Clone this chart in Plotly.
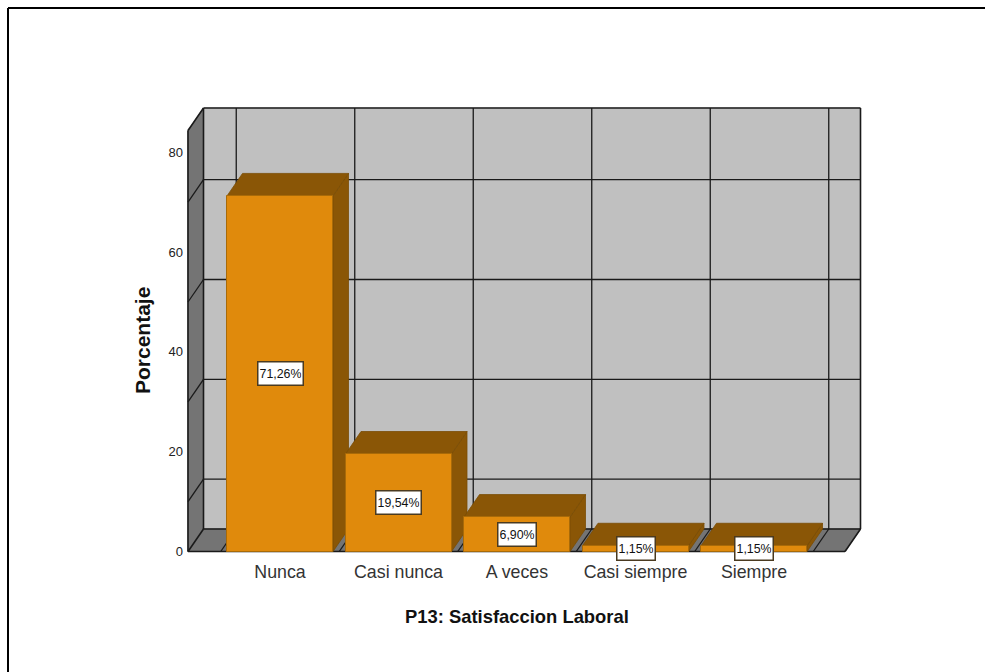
import plotly.graph_objects as go

categories = ["Nunca", "Casi nunca", "A veces", "Casi siempre", "Siempre"]
percentages = [71.26, 19.54, 6.90, 1.15, 1.15]
y_ticks = [0, 20, 40, 60, 80]
wall_lines = [10, 30, 50, 70]
x_title = "P13: Satisfaccion Laboral"
y_title = "Porcentaje"

W, H = 985, 672
PL, PR, PT, PB = 184, 865, 104, 555   # plot area in pixels
X_CENTER0, X_STEP = 280.0, 118.5      # pixel of first category, pixels per category
Y_ZERO, Y_UNIT = 551.5, 4.99          # pixel of 0, pixels per percent
DX, DY = 15.5 / X_STEP, 22.5 / Y_UNIT # 3D depth in data units
BAR_W = 106.0 / X_STEP
X_FRONT_L = (188 - X_CENTER0) / X_STEP
X_FRONT_R = (845 - X_CENTER0) / X_STEP
Y_TOP = (551 - 130) / Y_UNIT

SANS = "Liberation Sans, Arial, sans-serif"
WALL = "#c0c0c0"
SIDE = "#747474"
LINE = "#1a1a1a"
ORANGE = "#e08a0c"
BROWN = "#8a5606"


def poly(points, fill, line=None, width=1.0):
    path = "M " + " L ".join(f"{x},{y}" for x, y in points) + " Z"
    return dict(type="path", xref="x", yref="y", path=path, fillcolor=fill,
                layer="below", line=dict(color=line or fill, width=width))


def seg(x0, y0, x1, y1, width=1.3, color=LINE):
    return dict(type="line", xref="x", yref="y", x0=x0, y0=y0, x1=x1, y1=y1,
                layer="below", line=dict(color=color, width=width))


shapes = []
# back wall, left wall, floor
shapes.append(poly([(X_FRONT_L + DX, DY), (X_FRONT_R + DX, DY),
                    (X_FRONT_R + DX, Y_TOP + DY), (X_FRONT_L + DX, Y_TOP + DY)], WALL))
shapes.append(poly([(X_FRONT_L, 0), (X_FRONT_L + DX, DY),
                    (X_FRONT_L + DX, Y_TOP + DY), (X_FRONT_L, Y_TOP)], SIDE))
shapes.append(poly([(X_FRONT_L, 0), (X_FRONT_R, 0),
                    (X_FRONT_R + DX, DY), (X_FRONT_L + DX, DY)], SIDE))
# horizontal grid lines on back and left wall
for v in wall_lines:
    shapes.append(seg(X_FRONT_L + DX, v + DY, X_FRONT_R + DX, v + DY))
    shapes.append(seg(X_FRONT_L, v, X_FRONT_L + DX, v + DY))
# vertical grid lines on back wall and floor
for k in range(len(categories) + 1):
    xk = k - 0.5
    shapes.append(seg(xk + DX, DY, xk + DX, Y_TOP + DY))
    shapes.append(seg(xk, 0, xk + DX, DY))
# frame
shapes.append(seg(X_FRONT_L + DX, Y_TOP + DY, X_FRONT_R + DX, Y_TOP + DY, 1.6))
shapes.append(seg(X_FRONT_L + DX, DY, X_FRONT_R + DX, DY, 1.6))
shapes.append(seg(X_FRONT_L + DX, DY, X_FRONT_L + DX, Y_TOP + DY, 1.6))
shapes.append(seg(X_FRONT_R + DX, DY, X_FRONT_R + DX, Y_TOP + DY, 1.6))
shapes.append(seg(X_FRONT_L, 0, X_FRONT_L, Y_TOP, 1.6))
shapes.append(seg(X_FRONT_L, Y_TOP, X_FRONT_L + DX, Y_TOP + DY, 1.6))
shapes.append(seg(X_FRONT_L, 0, X_FRONT_L + DX, DY, 1.6))
shapes.append(seg(X_FRONT_R, 0, X_FRONT_R + DX, DY, 1.6))
shapes.append(seg(X_FRONT_L, 0, X_FRONT_R, 0, 1.6))
# bar depth faces
for i, v in enumerate(percentages):
    l, r = i - BAR_W / 2, i + BAR_W / 2
    shapes.append(poly([(r, 0), (r + DX, DY), (r + DX, v + DY), (r, v)], BROWN, "#7a4c05", 0.8))
    shapes.append(poly([(l, v), (r, v), (r + DX, v + DY), (l + DX, v + DY)], BROWN, "#7a4c05", 0.8))

# outer frame of the page (left and top only)
fx = lambda p: (p - PL) / (PR - PL)
fy = lambda p: (PB - p) / (PB - PT)
for x0, y0, x1, y1 in [(8, 8, 8, H), (8, 8, W, 8)]:
    shapes.append(dict(type="line", xref="paper", yref="paper", x0=fx(x0), y0=fy(y0),
                       x1=fx(x1), y1=fy(y1), line=dict(color="#000000", width=2)))

fig = go.Figure()
fig.add_trace(go.Bar(
    x=list(range(len(categories))), y=percentages, width=BAR_W,
    marker=dict(color=ORANGE, line=dict(color="#a86a08", width=1)),
    hovertemplate="%{y}<extra></extra>",
))

annotations = [
    dict(x=i, y=v / 2, xref="x", yref="y", showarrow=False,
         text=f"{v:.2f}".replace(".", ",") + "%",
         font=dict(family=SANS, size=12.4, color="#111111"),
         bgcolor="#ffffff", bordercolor="#4a3a20", borderwidth=1.5, borderpad=1,
         height=20)
    for i, v in enumerate(percentages)
]
annotations.append(dict(x=fx(517), y=fy(616), xref="paper", yref="paper", showarrow=False,
                        xanchor="center", yanchor="middle",
                        text=f"<b>{x_title}</b>",
                        font=dict(family=SANS, size=18.4, color="#111111")))
annotations.append(dict(x=fx(142), y=fy(341), xref="paper", yref="paper", showarrow=False,
                        xanchor="center", yanchor="middle",
                        text=f"<b>{y_title}</b>", textangle=-90,
                        font=dict(family=SANS, size=21, color="#111111")))

fig.update_layout(
    width=W, height=H, autosize=False, showlegend=False,
    paper_bgcolor="#ffffff", plot_bgcolor="#ffffff",
    margin=dict(l=PL, r=W - PR, t=PT, b=H - PB, pad=0),
    bargap=0, shapes=shapes, annotations=annotations,
    xaxis=dict(
        range=[(PL - X_CENTER0) / X_STEP, (PR - X_CENTER0) / X_STEP],
        tickmode="array", tickvals=list(range(len(categories))), ticktext=categories,
        showgrid=False, zeroline=False, showline=False,
        ticks="outside", ticklen=1, tickcolor="rgba(0,0,0,0)",
        tickfont=dict(family=SANS, size=17.8, color="#333333"),
    ),
    yaxis=dict(
        range=[(Y_ZERO - PB) / Y_UNIT, (Y_ZERO - PT) / Y_UNIT],
        tickmode="array", tickvals=y_ticks,
        showgrid=False, zeroline=False, showline=False,
        ticks="", tickfont=dict(family=SANS, size=13, color="#222222"),
    ),
)

fig.write_html("out.html", config=dict(displayModeBar=False),
               post_script="document.body.style.margin='0';")
